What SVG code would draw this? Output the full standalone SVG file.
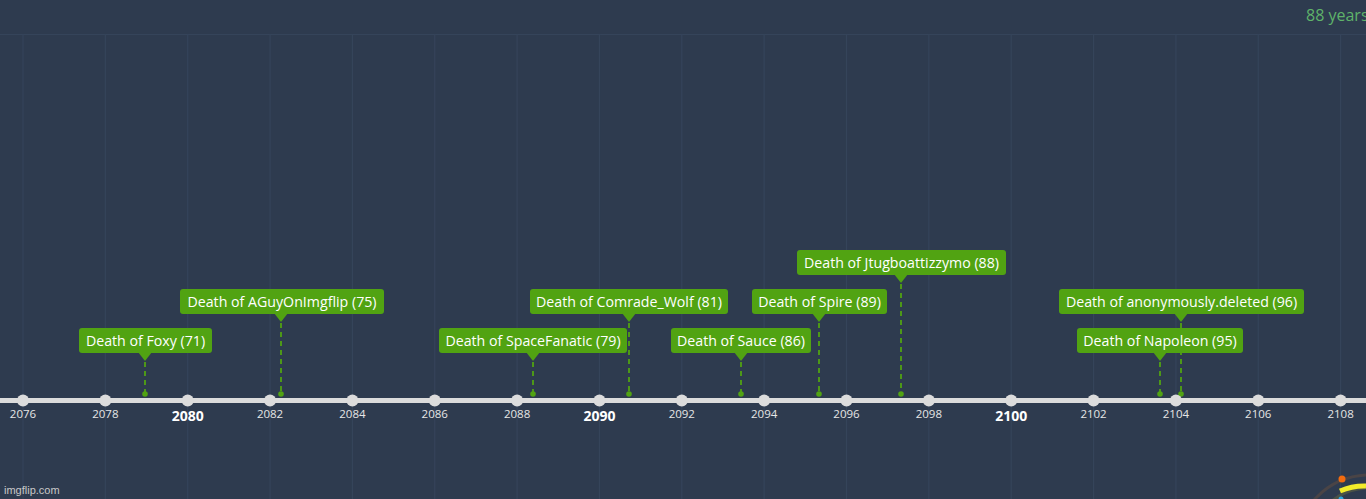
<svg xmlns="http://www.w3.org/2000/svg" width="1366" height="499" viewBox="0 0 1366 499">
<style>
.grid{stroke:#35445a;stroke-width:1.2}
.tick{fill:#dcdcdc}
.yr{font-family:"Open Sans","Noto Sans",sans-serif;font-size:11.5px;fill:#e6e6e6;text-anchor:middle}
.yrb{font-family:"Open Sans","Noto Sans",sans-serif;font-size:14px;font-weight:bold;fill:#ffffff;text-anchor:middle}
.box{fill:#51a312}
.lbl{font-family:"Open Sans","Noto Sans",sans-serif;font-size:14.2px;fill:#ffffff;text-anchor:middle}
.conn{stroke:#51a312;stroke-width:1.8;stroke-dasharray:5 4;fill:none}
.dot{fill:#51a312}
</style>
<rect width="1366" height="499" fill="#2e3b4f"/>
<g id="grid">
<line class="grid" x1="0" y1="34.5" x2="1366" y2="34.5"/>
<line class="grid" x1="23" y1="34" x2="23" y2="499"/>
<line class="grid" x1="105.35" y1="34" x2="105.35" y2="499"/>
<line class="grid" x1="187.7" y1="34" x2="187.7" y2="499"/>
<line class="grid" x1="270.05" y1="34" x2="270.05" y2="499"/>
<line class="grid" x1="352.4" y1="34" x2="352.4" y2="499"/>
<line class="grid" x1="434.75" y1="34" x2="434.75" y2="499"/>
<line class="grid" x1="517.1" y1="34" x2="517.1" y2="499"/>
<line class="grid" x1="599.45" y1="34" x2="599.45" y2="499"/>
<line class="grid" x1="681.8" y1="34" x2="681.8" y2="499"/>
<line class="grid" x1="764.15" y1="34" x2="764.15" y2="499"/>
<line class="grid" x1="846.5" y1="34" x2="846.5" y2="499"/>
<line class="grid" x1="928.85" y1="34" x2="928.85" y2="499"/>
<line class="grid" x1="1011.2" y1="34" x2="1011.2" y2="499"/>
<line class="grid" x1="1093.55" y1="34" x2="1093.55" y2="499"/>
<line class="grid" x1="1175.9" y1="34" x2="1175.9" y2="499"/>
<line class="grid" x1="1258.25" y1="34" x2="1258.25" y2="499"/>
<line class="grid" x1="1340.6" y1="34" x2="1340.6" y2="499"/>
</g>
<text x="1306" y="21" font-family="'Open Sans','Noto Sans',sans-serif" font-size="16" fill="#5fb36a">88 years</text>
<g id="connectors">
<line class="conn" x1="145" y1="362" x2="145" y2="394"/>
<line class="conn" x1="281" y1="323" x2="281" y2="394"/>
<line class="conn" x1="533" y1="362" x2="533" y2="394"/>
<line class="conn" x1="629" y1="323" x2="629" y2="394"/>
<line class="conn" x1="741" y1="362" x2="741" y2="394"/>
<line class="conn" x1="819" y1="323" x2="819" y2="394"/>
<line class="conn" x1="901" y1="284" x2="901" y2="394"/>
<line class="conn" x1="1181" y1="323" x2="1181" y2="394"/>
<line class="conn" x1="1160" y1="362" x2="1160" y2="394"/>
<circle class="dot" cx="145" cy="394" r="2.8"/>
<circle class="dot" cx="281" cy="394" r="2.8"/>
<circle class="dot" cx="533" cy="394" r="2.8"/>
<circle class="dot" cx="629" cy="394" r="2.8"/>
<circle class="dot" cx="741" cy="394" r="2.8"/>
<circle class="dot" cx="819" cy="394" r="2.8"/>
<circle class="dot" cx="901" cy="394" r="2.8"/>
<circle class="dot" cx="1181" cy="394" r="2.8"/>
<circle class="dot" cx="1160" cy="394" r="2.8"/>
</g>
<g id="axis">
<rect x="0" y="398" width="1366" height="5" fill="#dcdcdc"/>
<circle class="tick" cx="23" cy="400.5" r="6"/>
<circle class="tick" cx="105.35" cy="400.5" r="6"/>
<circle class="tick" cx="187.7" cy="400.5" r="6"/>
<circle class="tick" cx="270.05" cy="400.5" r="6"/>
<circle class="tick" cx="352.4" cy="400.5" r="6"/>
<circle class="tick" cx="434.75" cy="400.5" r="6"/>
<circle class="tick" cx="517.1" cy="400.5" r="6"/>
<circle class="tick" cx="599.45" cy="400.5" r="6"/>
<circle class="tick" cx="681.8" cy="400.5" r="6"/>
<circle class="tick" cx="764.15" cy="400.5" r="6"/>
<circle class="tick" cx="846.5" cy="400.5" r="6"/>
<circle class="tick" cx="928.85" cy="400.5" r="6"/>
<circle class="tick" cx="1011.2" cy="400.5" r="6"/>
<circle class="tick" cx="1093.55" cy="400.5" r="6"/>
<circle class="tick" cx="1175.9" cy="400.5" r="6"/>
<circle class="tick" cx="1258.25" cy="400.5" r="6"/>
<circle class="tick" cx="1340.6" cy="400.5" r="6"/>
<text class="yr" x="23" y="418">2076</text>
<text class="yr" x="105.35" y="418">2078</text>
<text class="yrb" x="187.7" y="421">2080</text>
<text class="yr" x="270.05" y="418">2082</text>
<text class="yr" x="352.4" y="418">2084</text>
<text class="yr" x="434.75" y="418">2086</text>
<text class="yr" x="517.1" y="418">2088</text>
<text class="yrb" x="599.45" y="421">2090</text>
<text class="yr" x="681.8" y="418">2092</text>
<text class="yr" x="764.15" y="418">2094</text>
<text class="yr" x="846.5" y="418">2096</text>
<text class="yr" x="928.85" y="418">2098</text>
<text class="yrb" x="1011.2" y="421">2100</text>
<text class="yr" x="1093.55" y="418">2102</text>
<text class="yr" x="1175.9" y="418">2104</text>
<text class="yr" x="1258.25" y="418">2106</text>
<text class="yr" x="1340.6" y="418">2108</text>
</g>
<g id="foxy"><rect class="box" x="79" y="328" width="133" height="25" rx="3"/><polygon class="box" points="138,352 152,352 145,361"/><text class="lbl" x="145.5" y="346">Death of Foxy (71)</text></g>
<g id="aguy"><rect class="box" x="180" y="289" width="204" height="25" rx="3"/><polygon class="box" points="274,313 288,313 281,322"/><text class="lbl" x="282" y="307">Death of AGuyOnImgflip (75)</text></g>
<g id="spacefanatic"><rect class="box" x="439" y="328" width="188" height="25" rx="3"/><polygon class="box" points="526,352 540,352 533,361"/><text class="lbl" x="533" y="346">Death of SpaceFanatic (79)</text></g>
<g id="comrade"><rect class="box" x="530" y="289" width="198" height="25" rx="3"/><polygon class="box" points="622,313 636,313 629,322"/><text class="lbl" x="629" y="307">Death of Comrade_Wolf (81)</text></g>
<g id="sauce"><rect class="box" x="671" y="328" width="140" height="25" rx="3"/><polygon class="box" points="734,352 748,352 741,361"/><text class="lbl" x="741" y="346">Death of Sauce (86)</text></g>
<g id="spire"><rect class="box" x="752" y="289" width="135" height="25" rx="3"/><polygon class="box" points="812,313 826,313 819,322"/><text class="lbl" x="819.5" y="307">Death of Spire (89)</text></g>
<g id="jtug"><rect class="box" x="797" y="250" width="209" height="25" rx="3"/><polygon class="box" points="894,274 908,274 901,283"/><text class="lbl" x="901.5" y="268">Death of Jtugboattizzymo (88)</text></g>
<g id="anon"><rect class="box" x="1059" y="289" width="245" height="25" rx="3"/><polygon class="box" points="1174,313 1188,313 1181,322"/><text class="lbl" x="1181.5" y="307">Death of anonymously.deleted (96)</text></g>
<g id="napoleon"><rect class="box" x="1077" y="328" width="166" height="25" rx="3"/><polygon class="box" points="1153,352 1167,352 1160,361"/><text class="lbl" x="1160" y="346">Death of Napoleon (95)</text></g>
<text x="4" y="494" font-family="'Liberation Sans',Arial,sans-serif" font-size="11" fill="#c8c8c8">imgflip.com</text>
<g id="gauge">
<circle cx="1370" cy="550" r="75" fill="none" stroke="#4a4446" stroke-width="3"/>
<circle cx="1370" cy="550" r="62" fill="none" stroke="#4a5246" stroke-width="3"/>
<path d="M1340,491 A60,60 0 0 1 1366,486" fill="none" stroke="#f2ec2a" stroke-width="5"/>
<circle cx="1342" cy="479" r="3.5" fill="#f26b0f"/>
<circle cx="1341" cy="499" r="2.5" fill="#2aa8e0"/>
</g>
</svg>
